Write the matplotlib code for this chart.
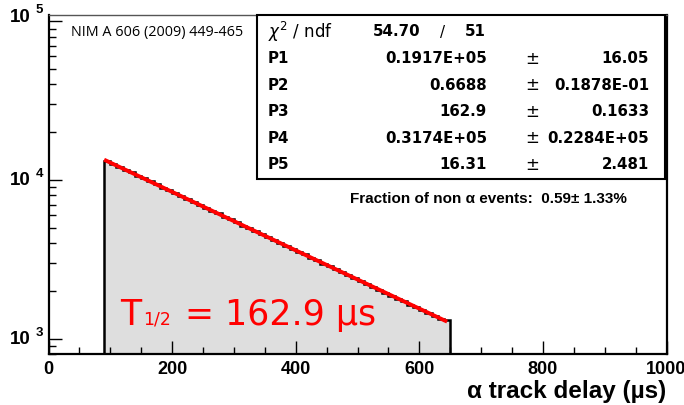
import matplotlib
matplotlib.use('Agg')
import matplotlib.pyplot as plt
import numpy as np
from matplotlib.patches import Rectangle
from matplotlib.ticker import MultipleLocator, LogLocator, NullFormatter
from matplotlib.transforms import blended_transform_factory, offset_copy

# ---------------- data ----------------
bin_low = 90        # first bin lower edge (µs)
bin_width = 10      # µs
counts = [13150, 12600, 12150, 11550, 11150, 10600, 10250, 9800, 9400, 8950,
          8650, 8250, 7950, 7550, 7300, 6950, 6700, 6400, 6150, 5850,
          5650, 5400, 5150, 4980, 4750, 4550, 4380, 4170, 4010, 3840,
          3690, 3520, 3390, 3240, 3110, 2970, 2860, 2730, 2620, 2510,
          2410, 2300, 2210, 2120, 2030, 1945, 1865, 1785, 1715, 1640,
          1575, 1505, 1445, 1385, 1330, 1305]

fit_amp = 13400      # fit value at start of range
fit_half_life = 162.9
fit_bkg = 16.31
fit_range = (90, 645)

stat_names = ["P1", "P2", "P3", "P4", "P5"]
stat_values = ["0.1917E+05", "0.6688", "162.9", "0.3174E+05", "16.31"]
stat_errors = ["16.05", "0.1878E-01", "0.1633", "0.2284E+05", "2.481"]
chi2_text = "54.70"
ndf_text = "51"

x_ticks_labels = ["0", "200", "400", "600", "800", "1000"]
y_decades = [3, 4, 5]

# ---------------- figure ----------------
W, H = 684, 406
fig = plt.figure(figsize=(W / 100, H / 100), dpi=100)

def fx(x):
    return x / W

def fy(y):
    return 1 - y / H

ax = fig.add_axes([fx(48.5), fy(355), fx(666.5) - fx(48.5), fy(15.7) - fy(355)])
ymin, ymax = 800, 1.1e5
ax.set_yscale('log')
ax.set_xlim(0, 1000)
ax.set_ylim(ymin, ymax)

edges = bin_low + bin_width * np.arange(len(counts) + 1)
ax.stairs(counts, edges, baseline=ymin, fill=True, color='#dedede', zorder=1)
ax.stairs(counts, edges, baseline=ymin, color='black', lw=1.8, zorder=2)

t = np.linspace(fit_range[0], fit_range[1], 300)
ax.plot(t, fit_amp * 2 ** (-(t - fit_range[0]) / fit_half_life) + fit_bkg,
        color='red', lw=2.8, zorder=3, solid_capstyle='butt')

# spines
for s in ['left', 'bottom', 'right']:
    ax.spines[s].set_linewidth(1.6)
    ax.spines[s].set_color('black')
ax.spines['top'].set_linewidth(1.0)
ax.spines['top'].set_color('#555555')

# ticks
ax.xaxis.set_major_locator(MultipleLocator(200))
ax.xaxis.set_minor_locator(MultipleLocator(50))
ax.yaxis.set_major_locator(LogLocator(base=10))
ax.yaxis.set_minor_locator(LogLocator(base=10, subs=np.arange(2, 10)))
ax.yaxis.set_major_formatter(NullFormatter())
ax.yaxis.set_minor_formatter(NullFormatter())
ax.tick_params(which='both', direction='in', top=False, right=False, color='black')
ax.tick_params(which='major', length=9.5, width=1.0)
ax.tick_params(which='minor', length=5, width=1.0)
ax.set_xticks([0, 200, 400, 600, 800, 1000])
ax.set_xticklabels(x_ticks_labels, fontsize=13, fontweight='bold',
                   family='Liberation Sans')
ax.tick_params(axis='x', pad=4)

# y tick labels as 10^n
trans = blended_transform_factory(fig.transFigure, ax.transData)
for d in y_decades:
    dy = 5 if d == 5 else 0
    tr_main = offset_copy(trans, fig=fig, x=0, y=dy, units='dots')
    tr_sup = offset_copy(trans, fig=fig, x=0, y=dy + 7, units='dots')
    fig.text(fx(30.5), 10 ** d, "10", transform=tr_main, ha='right', va='center',
             fontsize=13.5, fontweight='bold', family='Liberation Sans')
    fig.text(fx(36), 10 ** d, str(d), transform=tr_sup, ha='left', va='center',
             fontsize=9.5, fontweight='bold', family='Liberation Sans')

# axis title
fig.text(fx(666), fy(392), "α track delay (µs)", ha='right', va='center',
         fontsize=17.5, fontweight='bold', family='Liberation Sans')

# reference label
fig.text(fx(71), fy(32.7), "NIM A 606 (2009) 449-465", ha='left', va='center',
         fontsize=10.4, family='Open Sans')

# stats box
box = Rectangle((fx(257), fy(180)), fx(665) - fx(257), fy(16) - fy(180),
                transform=fig.transFigure, facecolor='white', edgecolor='black',
                lw=1.5, zorder=2)
fig.patches.append(box)

row_y0, row_dy = 32, 26.6
fig.text(fx(268), fy(row_y0), r"$\chi^{2}$ / ndf", ha='left', va='center',
         fontsize=12, family='DejaVu Sans', zorder=4)
fig.text(fx(373), fy(row_y0), chi2_text, ha='left', va='center', fontsize=10.8,
         fontweight='bold', family='DejaVu Sans', zorder=4)
fig.text(fx(442), fy(row_y0), "/", ha='center', va='center', fontsize=10.8,
         family='DejaVu Sans', zorder=4)
fig.text(fx(486), fy(row_y0), ndf_text, ha='right', va='center', fontsize=10.8,
         fontweight='bold', family='DejaVu Sans', zorder=4)
for i, (n, v, e) in enumerate(zip(stat_names, stat_values, stat_errors)):
    y = fy(row_y0 + row_dy * (i + 1))
    fig.text(fx(268), y, n, ha='left', va='center', fontsize=10.8,
             fontweight='bold', family='DejaVu Sans', zorder=4)
    fig.text(fx(487), y, v, ha='right', va='center', fontsize=10.8,
             fontweight='bold', family='DejaVu Sans', zorder=4)
    fig.text(fx(532), y, "±", ha='center', va='center', fontsize=12,
             family='DejaVu Sans', zorder=4)
    fig.text(fx(649), y, e, ha='right', va='center', fontsize=10.8,
             fontweight='bold', family='DejaVu Sans', zorder=4)

fig.text(fx(350), fy(199), "Fraction of non α events:  0.59± 1.33%", ha='left',
         va='center', fontsize=11, fontweight='bold', family='Liberation Sans')

# half-life annotation
fig.text(fx(120), fy(325), "T", ha='left', va='baseline', fontsize=25,
         color='red', family='DejaVu Sans')
fig.text(fx(143), fy(325), "1/2", ha='left', va='baseline', fontsize=12.5,
         color='red', family='DejaVu Sans')
fig.text(fx(185), fy(325), "= 162.9 µs", ha='left', va='baseline', fontsize=25,
         color='red', family='DejaVu Sans')

fig.savefig("out.png", dpi=100)
